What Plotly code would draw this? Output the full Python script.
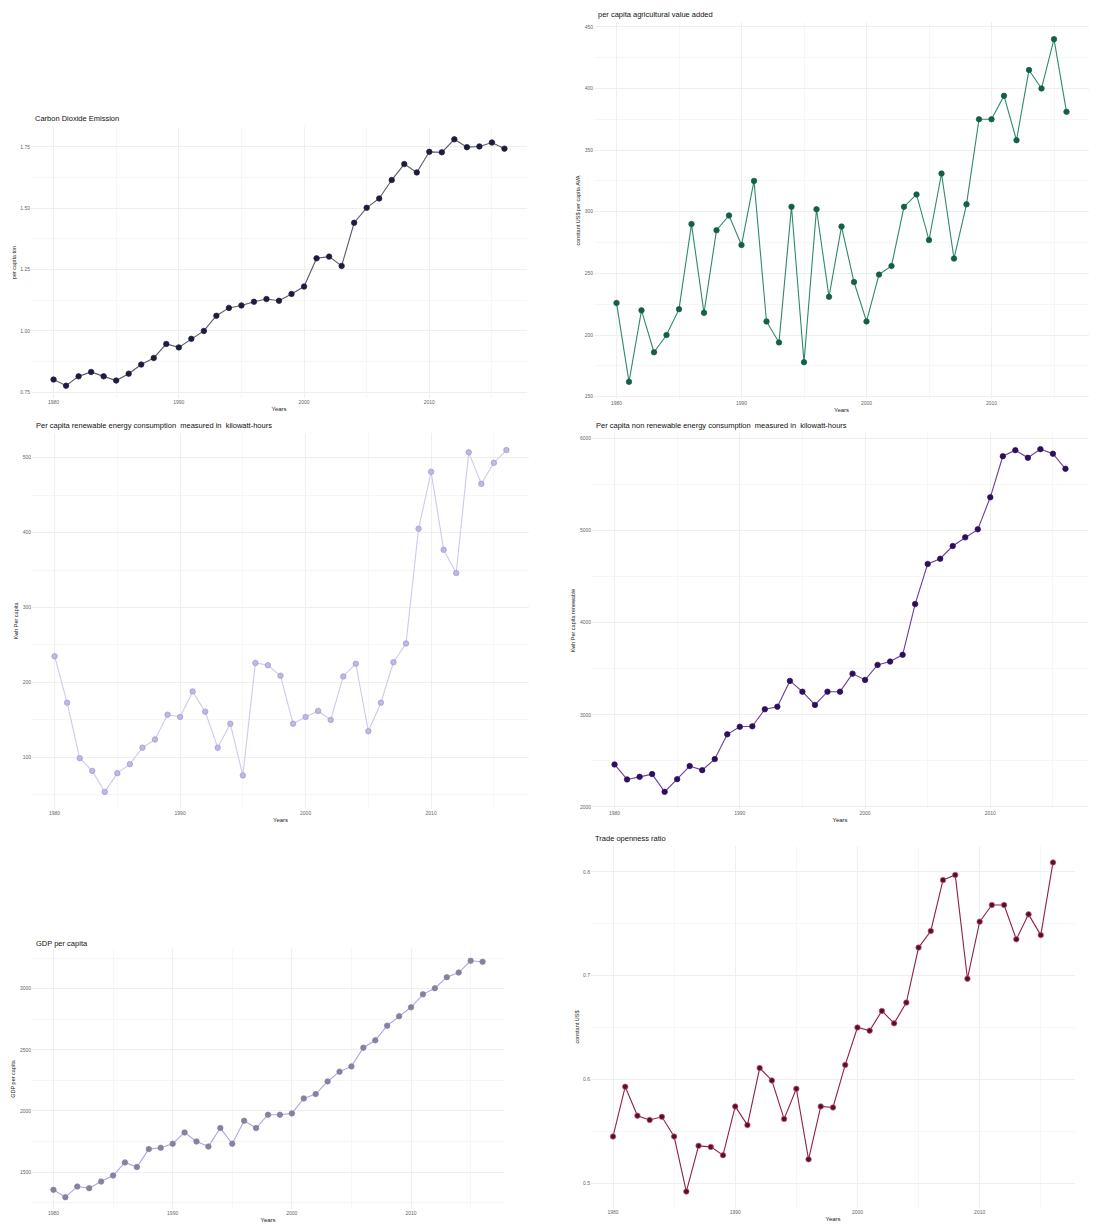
import plotly.graph_objects as go

# Canvas size in pixels
W, H = 1114, 1224

years = list(range(1980, 2017))
year_ticks = [1980, 1990, 2000, 2010]

# Carbon dioxide emission, tonnes per capita
co2 = [0.802, 0.777, 0.815, 0.833, 0.815, 0.798, 0.826, 0.863, 0.890, 0.947,
       0.933, 0.968, 1.000, 1.062, 1.094, 1.104, 1.119, 1.130, 1.123, 1.151,
       1.181, 1.296, 1.303, 1.265, 1.441, 1.502, 1.540, 1.615, 1.680, 1.646,
       1.730, 1.728, 1.781, 1.749, 1.752, 1.768, 1.743]
co2_ticks = [0.75, 1.00, 1.25, 1.50, 1.75]

# Agricultural value added, constant US$ per capita
agri = [226, 162, 220, 186, 200, 221, 290, 218, 285, 297,
        273, 325, 211, 194, 304, 178, 302, 231, 288, 243,
        211, 249, 256, 304, 314, 277, 331, 262, 306, 375,
        375, 394, 358, 415, 400, 440, 381]
agri_ticks = [150, 200, 250, 300, 350, 400, 450]

# Renewable energy consumption, kWh per capita
renew = [235, 173, 99, 82, 54, 79, 91, 113, 124, 157,
         154, 188, 161, 113, 145, 76, 226, 223, 209, 145,
         154, 162, 150, 208, 225, 135, 173, 227, 252, 405,
         481, 377, 346, 507, 465, 493, 510]
renew_ticks = [100, 200, 300, 400, 500]

# Non renewable energy consumption, kWh per capita
nonrenew = [2461, 2298, 2326, 2356, 2163, 2301, 2443, 2399, 2519, 2788,
            2870, 2875, 3060, 3088, 3368, 3251, 3107, 3251, 3251, 3447,
            3379, 3542, 3578, 3651, 4202, 4638, 4695, 4833, 4927, 5014,
            5362, 5808, 5874, 5791, 5885, 5835, 5671]
nonrenew_ticks = [2000, 3000, 4000, 5000, 6000]

# GDP per capita, constant US$
gdp = [1355, 1295, 1382, 1369, 1423, 1472, 1579, 1541, 1688, 1699,
       1732, 1824, 1750, 1709, 1860, 1732, 1920, 1860, 1969, 1969,
       1980, 2102, 2138, 2241, 2321, 2364, 2517, 2577, 2697, 2774,
       2847, 2953, 3003, 3093, 3131, 3227, 3219]
gdp_ticks = [1500, 2000, 2500, 3000]

# Trade openness ratio
trade = [0.545, 0.593, 0.565, 0.561, 0.564, 0.545, 0.492, 0.536, 0.535, 0.527,
         0.574, 0.556, 0.611, 0.599, 0.562, 0.591, 0.523, 0.574, 0.573, 0.614,
         0.650, 0.647, 0.666, 0.654, 0.674, 0.727, 0.743, 0.792, 0.797, 0.697,
         0.752, 0.768, 0.768, 0.735, 0.759, 0.739, 0.809]
trade_ticks = [0.5, 0.6, 0.7, 0.8]

FONT = "Liberation Sans, Arial, sans-serif"

# Each panel: plot box in pixels (left, top, right, bottom)
panels = [
    dict(title="Carbon Dioxide Emission", ytitle="per capita ton", y=co2,
         ticks=co2_ticks, fmt=".2f", box=(31, 127, 527, 398),
         line="#5a5a6e", marker="#1c1c3e", mline="#1c1c3e", title_y=119),
    dict(title="per capita agricultural value added",
         ytitle="constant US$ per capita AVA", y=agri, ticks=agri_ticks,
         fmt="d", box=(594, 22, 1089, 399),
         line="#2e8a6c", marker="#135f48", mline="#135f48", title_y=15),
    dict(title="Per capita renewable energy consumption  measured in  kilowatt-hours",
         ytitle="Kwh Per capita", y=renew, ticks=renew_ticks, fmt="d",
         box=(32, 433, 529, 809),
         line="#cdcaee", marker="#bdb9e4", mline="#9e9acb", title_y=425),
    dict(title="Per capita non renewable energy consumption  measured in  kilowatt-hours",
         ytitle="Kwh Per capita renewable", y=nonrenew, ticks=nonrenew_ticks,
         fmt="d", box=(592, 432, 1088, 809),
         line="#6a3d9e", marker="#2e0f5e", mline="#2e0f5e", title_y=425),
    dict(title="GDP per capita", ytitle="GDP per capita", y=gdp,
         ticks=gdp_ticks, fmt="d", box=(32, 949, 504, 1209),
         line="#aaa8e0", marker="#84829f", mline="#84829f", title_y=943),
    dict(title="Trade openness ratio", ytitle="constant US$", y=trade,
         ticks=trade_ticks, fmt=".1f", box=(591, 846, 1075, 1208),
         line="#922042", marker="#5e0d28", mline="#c06080", title_y=838),
]


def expanded(lo, hi, frac=0.05):
    pad = (hi - lo) * frac
    return [lo - pad, hi + pad]


def minor_vals(ticks, rng):
    step = ticks[1] - ticks[0]
    vals = []
    v = ticks[0] - step / 2
    while v <= rng[1]:
        if v >= rng[0]:
            vals.append(v)
        v += step
    return vals


fig = go.Figure()
annotations = []
layout = {}

for i, p in enumerate(panels, start=1):
    xa = "x" if i == 1 else f"x{i}"
    ya = "y" if i == 1 else f"y{i}"
    fig.add_trace(go.Scatter(
        x=years, y=p["y"], mode="lines+markers", xaxis=xa, yaxis=ya,
        line=dict(color=p["line"], width=1.1),
        marker=dict(color=p["marker"], size=5.5,
                    line=dict(color=p["mline"], width=0.7)),
        showlegend=False, hoverinfo="x+y",
    ))

    left, top, right, bottom = p["box"]
    xr = expanded(min(years), max(years))
    yr = expanded(min(p["y"]), max(p["y"]))

    xkey = "xaxis" if i == 1 else f"xaxis{i}"
    ykey = "yaxis" if i == 1 else f"yaxis{i}"
    layout[xkey] = dict(
        domain=[left / W, right / W], anchor=ya, range=xr,
        tickmode="array", tickvals=year_ticks,
        ticktext=[str(t) for t in year_ticks],
        showgrid=True, gridcolor="#efefef", gridwidth=1,
        minor=dict(tickmode="array", tickvals=minor_vals(year_ticks, xr),
                   showgrid=True, gridcolor="#f6f6f6", gridwidth=0.6),
        zeroline=False, showline=False, ticks="",
        tickfont=dict(size=5, color="#666666", family=FONT),
        title=dict(text="Years", font=dict(size=6, color="#222222", family=FONT),
                   standoff=2),
    )
    layout[ykey] = dict(
        domain=[1 - bottom / H, 1 - top / H], anchor=xa, range=yr,
        tickmode="array", tickvals=p["ticks"],
        ticktext=[format(t, p["fmt"]) if p["fmt"] != "d" else str(int(t))
                  for t in p["ticks"]],
        showgrid=True, gridcolor="#efefef", gridwidth=1,
        minor=dict(tickmode="array", tickvals=minor_vals(p["ticks"], yr),
                   showgrid=True, gridcolor="#f6f6f6", gridwidth=0.6),
        zeroline=False, showline=False, ticks="",
        tickfont=dict(size=5, color="#666666", family=FONT),
        title=dict(text=p["ytitle"], font=dict(size=5.5, color="#222222", family=FONT),
                   standoff=3),
    )
    annotations.append(dict(
        text=p["title"], xref="paper", yref="paper",
        x=(left + 2) / W, y=1 - p["title_y"] / H,
        xanchor="left", yanchor="middle", showarrow=False,
        font=dict(size=7.5, color="#111111", family=FONT),
    ))

fig.update_layout(
    width=W, height=H,
    margin=dict(l=0, r=0, t=0, b=0),
    paper_bgcolor="white", plot_bgcolor="white",
    annotations=annotations,
    **layout,
)

fig.write_html("out.html")
